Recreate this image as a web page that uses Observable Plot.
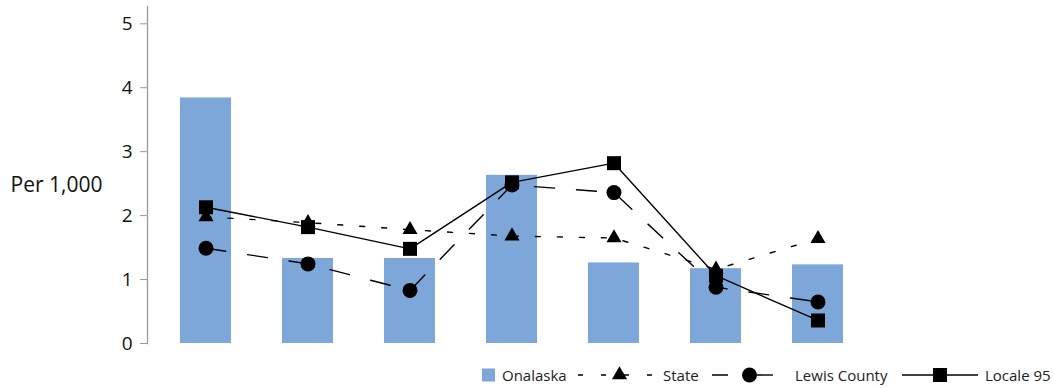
<!DOCTYPE html>
<html>
<head>
<meta charset="utf-8">
<script src="https://cdn.jsdelivr.net/npm/d3@7"></script>
<script src="https://cdn.jsdelivr.net/npm/@observablehq/plot@0.6"></script>
<style>
  html, body { margin: 0; padding: 0; background: #fff; }
  #wrap { position: relative; width: 1053px; height: 388px; font-family: "Open Sans", sans-serif; }
  #legend { position: absolute; left: 0; top: 358px; }
</style>
</head>
<body>
<div id="wrap"></div>
<script>
// Categories (unlabeled in the original)
const categories = ["c1", "c2", "c3", "c4", "c5", "c6", "c7"];
// Series values (per 1,000)
const onalaska = [3.84, 1.33, 1.33, 2.63, 1.26, 1.17, 1.23];
const state = [1.98, 1.89, 1.78, 1.68, 1.65, 1.16, 1.64];
const lewisCounty = [1.49, 1.245, 0.83, 2.48, 2.36, 0.88, 0.65];
const locale95 = [2.13, 1.82, 1.48, 2.52, 2.82, 1.06, 0.36];
const yTicks = [0, 1, 2, 3, 4, 5];
const seriesNames = ["Onalaska", "State", "Lewis County", "Locale 95"];

const data = categories.map((c, i) => ({
  cat: c, onalaska: onalaska[i], state: state[i], lewis: lewisCounty[i], locale: locale95[i]
}));

const barColor = "#7da7d9";
const W = 1053, H = 358;

const chart = Plot.plot({
  width: W,
  height: H,
  marginLeft: 147,
  marginTop: 6,
  marginBottom: 15,
  marginRight: 183,
  style: { fontFamily: "Open Sans, sans-serif", background: "white" },
  x: { domain: categories, range: [153, 870], paddingInner: 0.5, paddingOuter: 0.25, axis: null },
  y: { domain: [0, 5.27] },
  marks: [
    Plot.barY(data, { x: "cat", y: "onalaska", fill: barColor }),
    Plot.frame({ anchor: "left", stroke: "#9a9a9a", strokeWidth: 1.3 }),
    Plot.axisY({ ticks: yTicks, tickSize: 7, tickPadding: 8, fontSize: 19, tickFormat: d3.format("d"), stroke: "#9a9a9a", color: "#111", label: null }),
    Plot.text(["Per 1,000"], { frameAnchor: "left", dx: -137, dy: 0, fontSize: 21, fill: "#111", textAnchor: "start", y: 2.47 }),
    Plot.line(data, { x: "cat", y: "state", stroke: "black", strokeWidth: 1.4, strokeDasharray: "5,17" }),
    Plot.line(data, { x: "cat", y: "lewis", stroke: "black", strokeWidth: 1.4, strokeDasharray: "20,22" }),
    Plot.line(data, { x: "cat", y: "locale", stroke: "black", strokeWidth: 1.4 }),
    Plot.dot(data, { x: "cat", y: "state", symbol: "triangle", fill: "black", r: 5.6 }),
    Plot.dot(data, { x: "cat", y: "lewis", symbol: "circle", fill: "black", r: 7.5 }),
    Plot.dot(data, { x: "cat", y: "locale", symbol: "square", fill: "black", r: 7.9 })
  ]
});
document.getElementById("wrap").appendChild(chart);

// Legend below the chart
const lg = d3.select("#wrap").append("svg")
  .attr("id", "legend").attr("width", W).attr("height", 30)
  .style("font-family", "Open Sans, sans-serif").style("font-size", "15px");
const cy = 17;
const txt = (x, s) => lg.append("text").attr("x", x).attr("y", cy).attr("dominant-baseline", "central").attr("fill", "#222").text(s);
const sym = (type, cx, r) => lg.append("path").attr("transform", `translate(${cx},${cy})`).attr("fill", "black")
  .attr("d", d3.symbol(type, r * r * Math.PI)());

lg.append("rect").attr("x", 482).attr("y", cy - 6.5).attr("width", 13).attr("height", 13).attr("fill", barColor);
txt(502, seriesNames[0]);

lg.append("line").attr("x1", 578).attr("x2", 652).attr("y1", cy).attr("y2", cy).attr("stroke", "black").attr("stroke-width", 1.4).attr("stroke-dasharray", "5,18");
sym(d3.symbolTriangle, 619.5, 5.6);
txt(663, seriesNames[1]);

lg.append("line").attr("x1", 712).attr("x2", 775).attr("y1", cy).attr("y2", cy).attr("stroke", "black").attr("stroke-width", 1.4).attr("stroke-dasharray", "16,29");
sym(d3.symbolCircle, 749.5, 7.5);
txt(795, seriesNames[2]);

lg.append("line").attr("x1", 902).attr("x2", 978).attr("y1", cy).attr("y2", cy).attr("stroke", "black").attr("stroke-width", 1.4);
sym(d3.symbolSquare, 940, 7.9);
txt(985, seriesNames[3]);
</script>
</body>
</html>
